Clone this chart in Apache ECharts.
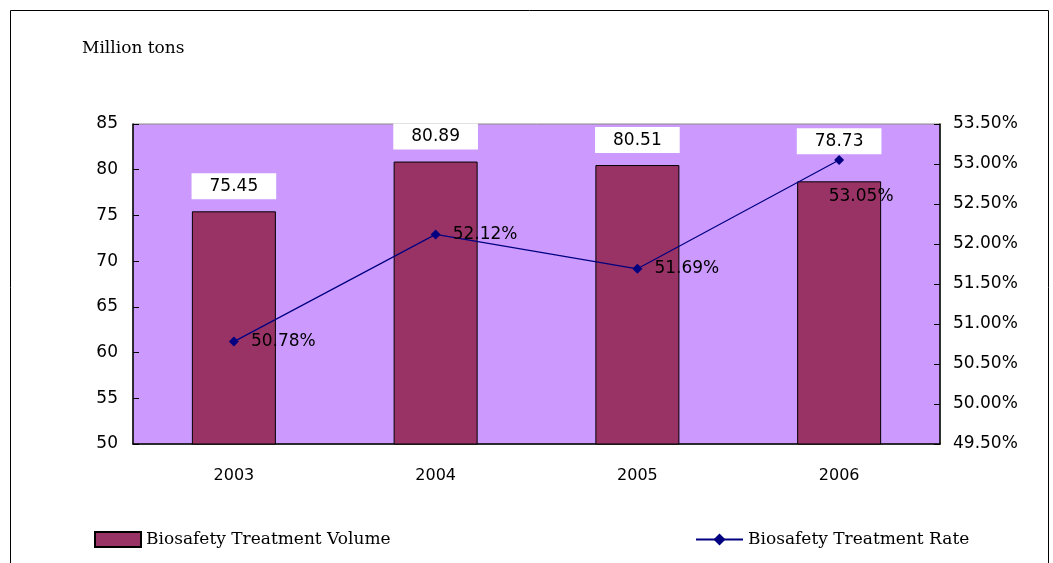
<!DOCTYPE html>
<html lang="en">
<head>
    <meta charset="UTF-8">
    <title>Biosafety Treatment</title>
    <script src="https://cdn.jsdelivr.net/npm/echarts@6/dist/echarts.min.js"></script>
    <style>
        html, body {
            width: 100%;
            height: 100%;
            margin: 0;
            padding: 0;
            background: #fff;
            overflow: hidden;
        }
        #chart {
            width: 1053px;
            height: 563px;
        }
    </style>
</head>
<body>
<div id="chart"></div>
<script>
    // Chart data
    var years = ['2003', '2004', '2005', '2006'];
    var volume = [75.45, 80.89, 80.51, 78.73];      // million tons
    var rate = [50.78, 52.12, 51.69, 53.05];        // percent

    var sansFont = '"DejaVu Sans", "Liberation Sans", Arial, sans-serif';
    var serifFont = '"DejaVu Serif", "Liberation Serif", serif';

    var chart = echarts.init(document.getElementById('chart'));

    var option = {
        backgroundColor: '#fff',
        animation: false,
        graphic: [
            {
                // outer frame of the chart area
                type: 'rect',
                shape: { x: 10.5, y: 10.5, width: 1038, height: 600 },
                style: { fill: 'none', stroke: '#000', lineWidth: 1 },
                silent: true
            },
            {
                type: 'text',
                left: 82,
                top: 40,
                style: { text: 'Million tons', font: '17px ' + serifFont, fill: '#000' }
            }
        ],
        legend: [
            {
                data: ['Biosafety Treatment Volume'],
                icon: 'rect',
                left: 89,
                top: 526,
                itemWidth: 46,
                itemHeight: 15,
                itemGap: 10,
                textStyle: { fontFamily: serifFont, fontSize: 17, color: '#000' }
            },
            {
                data: ['Biosafety Treatment Rate'],
                left: 690,
                top: 526,
                itemWidth: 47,
                itemHeight: 15,
                textStyle: { fontFamily: serifFont, fontSize: 17, color: '#000' }
            }
        ],
        grid: {
            left: 133,
            right: 113,
            top: 124,
            bottom: 119,
            show: true,
            backgroundColor: '#CC99FF',
            borderColor: '#888',
            borderWidth: 1
        },
        xAxis: {
            type: 'category',
            data: years,
            boundaryGap: true,
            axisLine: { lineStyle: { color: '#000', width: 1.5 } },
            axisTick: { inside: true, length: 6, lineStyle: { color: '#000' } },
            axisLabel: { margin: 24, fontFamily: sansFont, fontSize: 16, color: '#000' }
        },
        yAxis: [
            {
                type: 'value',
                min: 50,
                max: 85,
                interval: 5,
                splitLine: { show: false },
                axisLine: { show: true, lineStyle: { color: '#000', width: 1.5 } },
                axisTick: { show: true, inside: true, length: 6, lineStyle: { color: '#000' } },
                axisLabel: { margin: 15, fontFamily: sansFont, fontSize: 17, color: '#000' }
            },
            {
                type: 'value',
                min: 49.5,
                max: 53.5,
                interval: 0.5,
                splitLine: { show: false },
                axisLine: { show: true, lineStyle: { color: '#000', width: 1.5 } },
                axisTick: { show: true, inside: true, length: 6, lineStyle: { color: '#000' } },
                axisLabel: {
                    margin: 13,
                    fontFamily: sansFont,
                    fontSize: 17,
                    color: '#000',
                    formatter: function (v) { return v.toFixed(2) + '%'; }
                }
            }
        ],
        series: [
            {
                name: 'Biosafety Treatment Volume',
                type: 'bar',
                yAxisIndex: 0,
                barWidth: 84,
                data: volume.map(function (v, i) {
                    // the 2006 label box is lifted to the row of the others
                    if (i === volume.length - 1) {
                        return { value: v, label: { offset: [0, -15] } };
                    }
                    return v;
                }),
                itemStyle: { color: '#993366', borderColor: '#000', borderWidth: 1 },
                label: {
                    show: true,
                    position: 'top',
                    distance: 12,
                    backgroundColor: '#fff',
                    padding: [5, 18, 4, 18],
                    fontFamily: sansFont,
                    fontSize: 17,
                    color: '#000',
                    formatter: function (p) { return p.value.toFixed(2); }
                }
            },
            {
                name: 'Biosafety Treatment Rate',
                type: 'line',
                yAxisIndex: 1,
                data: rate.map(function (v, i) {
                    // last label sits below-right of its point
                    if (i === rate.length - 1) {
                        return { value: v, label: { position: 'bottom', offset: [22, 11] } };
                    }
                    return v;
                }),
                symbol: 'diamond',
                symbolSize: 10,
                lineStyle: { color: '#000080', width: 1.2 },
                itemStyle: { color: '#000080' },
                label: {
                    show: true,
                    position: 'right',
                    distance: 12,
                    fontFamily: sansFont,
                    fontSize: 17,
                    color: '#000',
                    formatter: function (p) { return p.value.toFixed(2) + '%'; }
                },
                z: 5
            }
        ]
    };

    chart.setOption(option);
</script>
</body>
</html>
